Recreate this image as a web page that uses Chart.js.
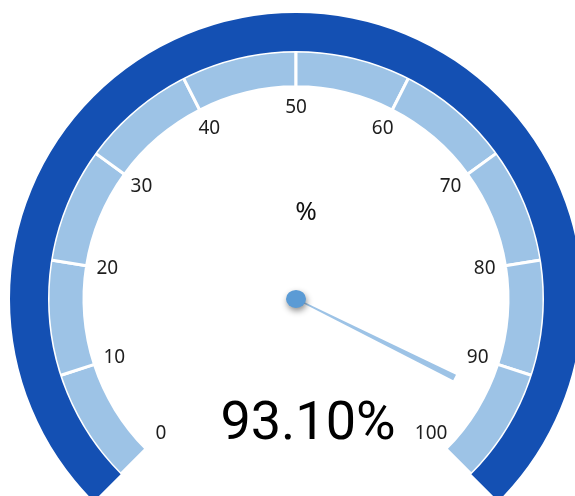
<!DOCTYPE html>
<html>
<head>
<meta charset="utf-8">
<script src="https://cdn.jsdelivr.net/npm/chart.js@4.4.0/dist/chart.umd.min.js"></script>
<style>
    html, body { margin: 0; padding: 0; background: #fff; overflow: hidden; }
    #wrap { width: 575px; height: 496px; }
</style>
</head>
<body>
<div id="wrap"><canvas id="gauge"></canvas></div>
<script>
// gauge data
const gaugeMin = 0;
const gaugeMax = 100;
const bandSegments = [10, 10, 10, 10, 10, 10, 10, 10, 10, 10];
const tickValues = [0, 10, 20, 30, 40, 50, 60, 70, 80, 90, 100];
const tickLabels = ['0', '10', '20', '30', '40', '50', '60', '70', '80', '90', '100'];
const gaugeValue = 93.1;
const valueText = '93.10%';
const unitText = '%';

const darkBlue = '#1450b3';
const lightBlue = '#9dc3e6';

// needle, hub, tick labels and texts drawn on top of the doughnut arcs
const gaugeOverlay = {
    id: 'gaugeOverlay',
    afterDatasetsDraw(chart) {
        const ctx = chart.ctx;
        const meta = chart.getDatasetMeta(1);
        const first = meta.data[0];
        const last = meta.data[meta.data.length - 1];
        const cx = first.x, cy = first.y;
        const a0 = first.startAngle, a1 = last.endAngle;
        const inner = first.innerRadius;
        const toAngle = v => a0 + (v - gaugeMin) / (gaugeMax - gaugeMin) * (a1 - a0);

        ctx.save();
        ctx.fillStyle = '#1e1e1e';
        ctx.textAlign = 'center';
        ctx.textBaseline = 'middle';
        ctx.font = '19px "Noto Sans"';
        tickValues.forEach((v, i) => {
            const a = toAngle(v);
            const r = inner - 21;
            ctx.fillText(tickLabels[i], cx + r * Math.cos(a), cy + r * Math.sin(a));
        });

        ctx.fillStyle = '#111';
        ctx.font = '26px "Noto Sans"';
        ctx.fillText(unitText, cx + 10, cy - 86);

        ctx.fillStyle = '#000';
        ctx.font = '54px Roboto';
        ctx.fillText(valueText, cx + 12, cy + 127);

        // needle
        const na = toAngle(gaugeValue);
        const len = inner - 35;
        const ux = Math.cos(na), uy = Math.sin(na);
        const px = -uy, py = ux;
        ctx.fillStyle = lightBlue;
        ctx.beginPath();
        ctx.moveTo(cx + px * 0.6, cy + py * 0.6);
        ctx.lineTo(cx + ux * len + px * 3.2, cy + uy * len + py * 3.2);
        ctx.lineTo(cx + ux * len - px * 3.2, cy + uy * len - py * 3.2);
        ctx.lineTo(cx - px * 0.6, cy - py * 0.6);
        ctx.closePath();
        ctx.fill();

        // hub
        ctx.shadowColor = 'rgba(0,0,0,0.45)';
        ctx.shadowBlur = 6;
        ctx.shadowOffsetX = 1;
        ctx.shadowOffsetY = 3;
        ctx.fillStyle = '#5b9bd5';
        ctx.beginPath();
        ctx.ellipse(cx, cy, 10, 9, 0, 0, Math.PI * 2);
        ctx.fill();
        ctx.restore();
    }
};

let gaugeEl = document.getElementById('gauge').getContext('2d');
let gauge = new Chart(gaugeEl, {
    type: 'doughnut',
    data: {
        labels: bandSegments.map((s, i) => tickLabels[i] + '-' + tickLabels[i + 1]),
        datasets: [
            {
                label: 'Range',
                data: [gaugeMax - gaugeMin],
                backgroundColor: darkBlue,
                borderWidth: 0,
                weight: 38
            },
            {
                label: 'Bands',
                data: bandSegments,
                backgroundColor: lightBlue,
                borderColor: '#ffffff',
                borderWidth: 3,
                weight: 36
            }
        ]
    },
    options: {
        animation: false,
        responsive: true,
        maintainAspectRatio: false,
        events: [],
        rotation: -135,
        circumference: 270,
        radius: 286,
        cutout: '74.13%',
        layout: {
            padding: { top: 18, left: 17 }
        },
        plugins: {
            legend: { display: false },
            tooltip: { enabled: false }
        }
    },
    plugins: [gaugeOverlay]
});
</script>
</body>
</html>
